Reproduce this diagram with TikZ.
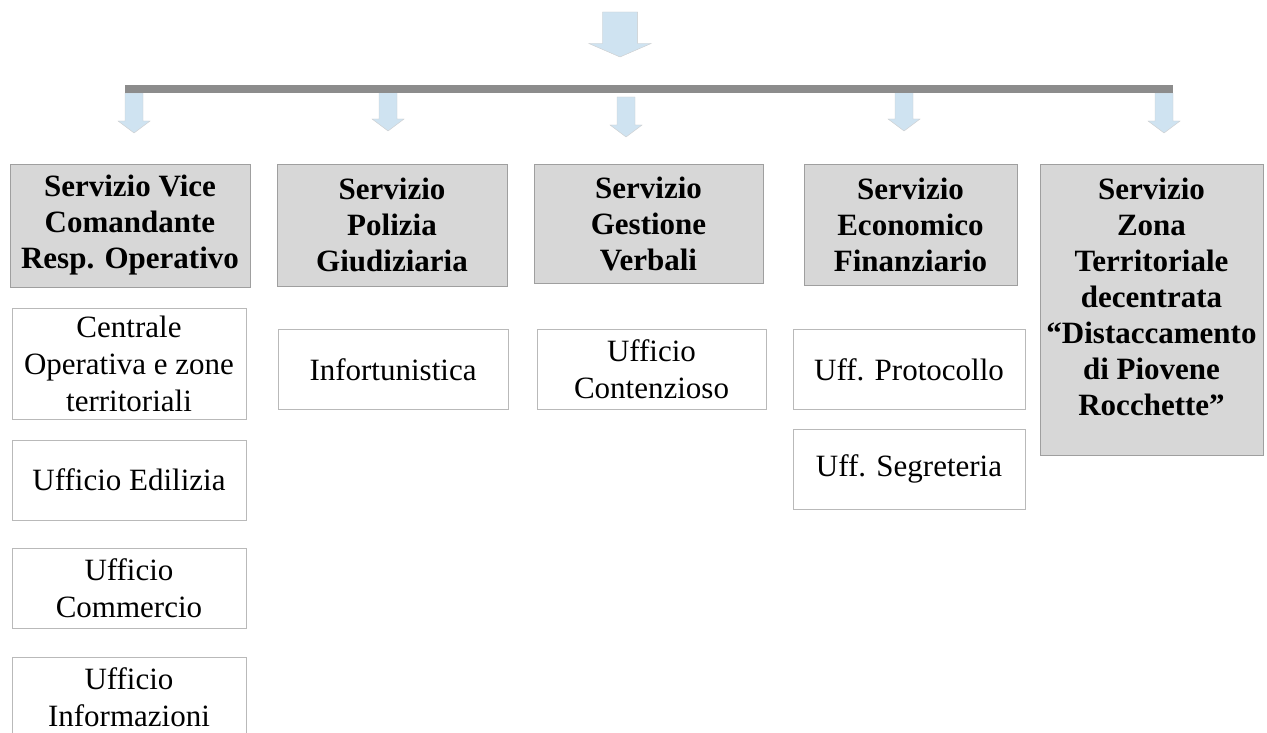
\documentclass[tikz,border=0pt]{standalone}
\usepackage{fontspec}
\setmainfont{Liberation Serif}
\usetikzlibrary{positioning}
\definecolor{hdrgray}{HTML}{D7D7D7}
\definecolor{bargray}{HTML}{8C8C8C}
\definecolor{arrowblue}{HTML}{CFE3F1}
\begin{document}
\begin{tikzpicture}[
        x=1pt, y=1pt,
        service/.style={rectangle, draw=gray!75, fill=hdrgray, align=center, inner xsep=2pt, font=\fontsize{31}{36}\selectfont\bfseries},
        office/.style={rectangle, draw=gray!55, fill=white, align=center, inner xsep=2pt, minimum height=80pt, font=\fontsize{31}{37}\selectfont},
        downarrow/.pic={\filldraw[draw=gray!40, fill=arrowblue] (-9,0) -- (9,0) -- (9,-28) -- (16,-28) -- (0,-40) -- (-16,-28) -- (-9,-28) -- cycle;}
    ]
\useasboundingbox (0,0) rectangle (1267,-733);

% Top arrow and bar
        \pic[xscale=1.95, yscale=1.125] at (620,-12) {downarrow};
        \pic at (134,-93) {downarrow};
        \pic at (388,-91) {downarrow};
        \pic at (626,-97) {downarrow};
        \pic at (904,-91) {downarrow};
        \pic at (1164,-93) {downarrow};
        \fill[bargray] (125,-85) rectangle (1173,-93);

% Services
        \node[service, minimum width=240pt, minimum height=123pt] (vice) at (130,-225.5) {Servizio Vice\\Comandante\\Resp. Operativo};
        \node[service, minimum width=230pt, minimum height=122pt] (pg) at (392,-225) {Servizio\\Polizia\\Giudiziaria};
        \node[service, minimum width=229pt, minimum height=119pt] (gv) at (648.5,-223.5) {Servizio\\Gestione\\Verbali};
        \node[service, minimum width=213pt, minimum height=121pt] (ef) at (910.5,-224.5) {Servizio\\Economico\\Finanziario};
        \node[service, minimum width=223pt, minimum height=291pt] (zt) at (1151.5,-309.5) {Servizio\\Zona\\Territoriale\\decentrata\\``Distaccamento\\di Piovene\\Rocchette''\rule[-26pt]{0pt}{26pt}};

% Offices
        \node[office, minimum width=234pt, minimum height=111pt, below=21pt of vice, xshift=-1pt] (co) {Centrale\\Operativa e zone\\territoriali};
        \node[office, minimum width=234pt, below=20pt of co] (ed) {Ufficio Edilizia};
        \node[office, minimum width=234pt, below=28pt of ed] (com) {Ufficio\\Commercio};
        \node[office, minimum width=234pt, below=29pt of com] (inf) {Ufficio\\Informazioni};
        \node[office, minimum width=230pt, below=43pt of pg, xshift=1pt] (infort) {Infortunistica};
        \node[office, minimum width=229pt, below=46pt of gv, xshift=3pt] (cont) {Ufficio\\Contenzioso};
        \node[office, minimum width=232pt, below=44pt of ef, xshift=-1.5pt] (prot) {Uff. Protocollo};
        \node[office, minimum width=232pt, below=19pt of prot] (segr) {Uff. Segreteria};
    \end{tikzpicture}
\end{document}
